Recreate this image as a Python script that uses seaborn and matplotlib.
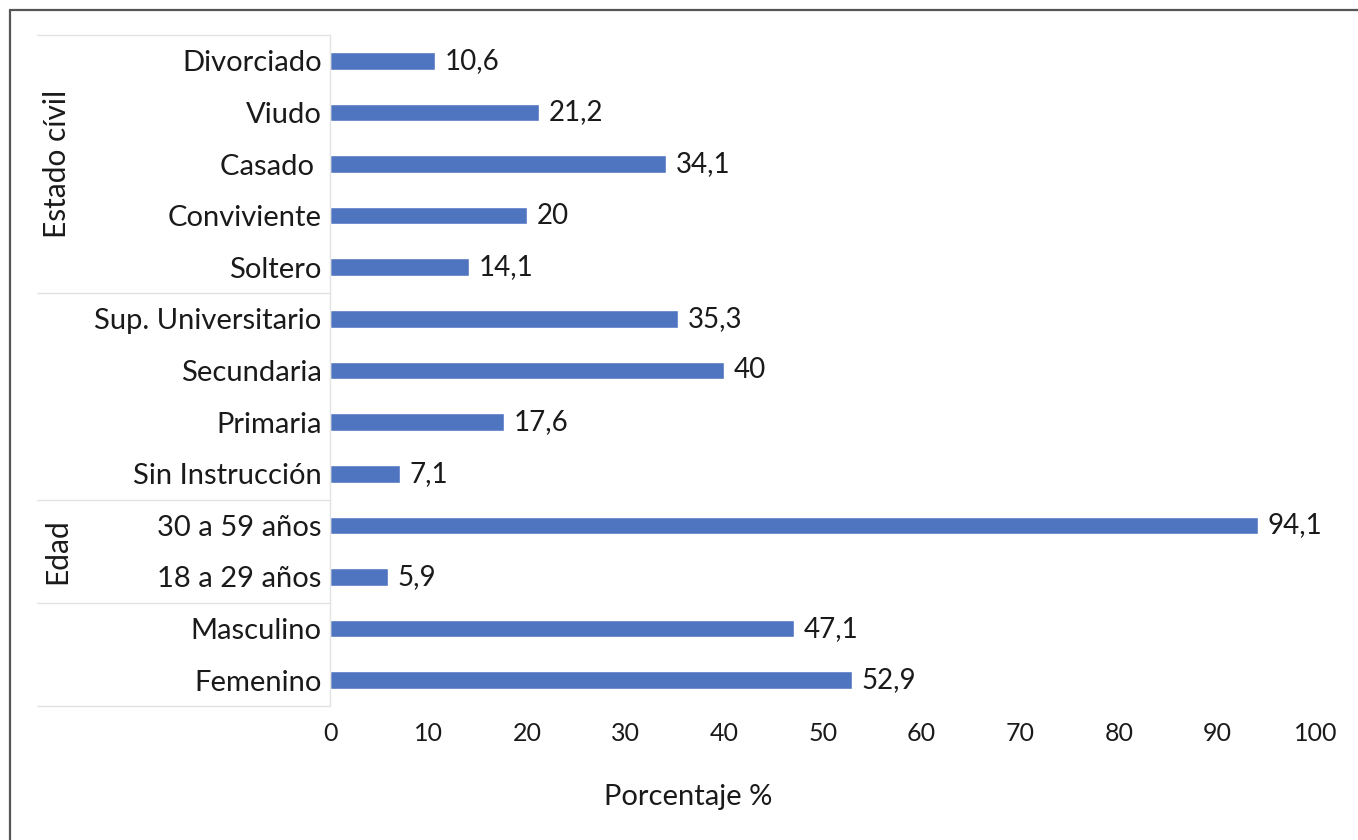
import matplotlib
matplotlib.use("Agg")
import matplotlib.pyplot as plt
import seaborn as sns
import pandas as pd
from matplotlib.lines import Line2D

categories = ["Divorciado", "Viudo", "Casado ", "Conviviente", "Soltero",
              "Sup. Universitario", "Secundaria", "Primaria", "Sin Instrucción",
              "30 a 59 años", "18 a 29 años", "Masculino", "Femenino"]
values = [10.6, 21.2, 34.1, 20, 14.1, 35.3, 40, 17.6, 7.1, 94.1, 5.9, 47.1, 52.9]
group_names = ["Estado cívil", "", "Edad", ""]
group_sizes = [5, 4, 2, 2]
x_ticks = [0, 10, 20, 30, 40, 50, 60, 70, 80, 90, 100]
x_label = "Porcentaje %"

sns.set_theme(style="white")
plt.rcParams['font.family'] = ['Lato', 'DejaVu Sans']

df = pd.DataFrame({"cat": categories, "val": values})

W, H = 1358, 840
fig = plt.figure(figsize=(W / 100, H / 100), dpi=100)
ax = fig.add_axes([330 / W, 1 - 706 / H, (1316 - 330) / W, (706 - 35) / H])

bar_color = "#4F75C1"
txt = "#1a1a1a"
sns.barplot(data=df, x="val", y="cat", order=categories, color=bar_color,
            width=0.34, saturation=1, ax=ax)

ax.set_xlim(0, 100)
ax.set_ylim(12.5, -0.5)
ax.set_xticks(x_ticks)
ax.set_xticklabels([str(t) for t in x_ticks])
ax.tick_params(axis="x", length=0, pad=11.5, labelsize=18, labelcolor=txt)
ax.tick_params(axis="y", length=0, pad=6, labelsize=21, labelcolor=txt)
ax.set_ylabel("")
ax.set_xlabel(x_label, fontsize=21, color=txt, va="center")
ax.xaxis.set_label_coords((688 - 330) / 986, (706 - 797) / 671)

for s in ["top", "right", "bottom"]:
    ax.spines[s].set_visible(False)
ax.spines["left"].set_color("#E3E3E3")
ax.spines["left"].set_linewidth(1.0)

# data labels
for c in ax.containers:
    labels = [f"{v:g}".replace(".", ",") for v in values]
    ax.bar_label(c, labels=labels, padding=7, fontsize=20, color=txt)

# group separators and labels
trans = ax.get_yaxis_transform()
x_left = (37 - 330) / 986
edges = [-0.5]
for s in group_sizes:
    edges.append(edges[-1] + s)
for e in edges:
    ax.add_line(Line2D([x_left, 0], [e, e], transform=trans, color="#E3E3E3",
                       lw=1.0, clip_on=False))
for name, a, b in zip(group_names, edges[:-1], edges[1:]):
    if name:
        ax.text((57 - 330) / 986, (a + b) / 2, name, transform=trans, rotation=90,
                ha="center", va="center", fontsize=21.5, color=txt)

# outer frame (top and left)
fig.add_artist(Line2D([9.5 / W, 1], [1 - 9.5 / H, 1 - 9.5 / H], transform=fig.transFigure,
                      color="#555555", lw=1.6))
fig.add_artist(Line2D([9.5 / W, 9.5 / W], [0, 1 - 9.5 / H], transform=fig.transFigure,
                      color="#555555", lw=1.6))

fig.savefig("out.png", dpi=100, facecolor="white")
